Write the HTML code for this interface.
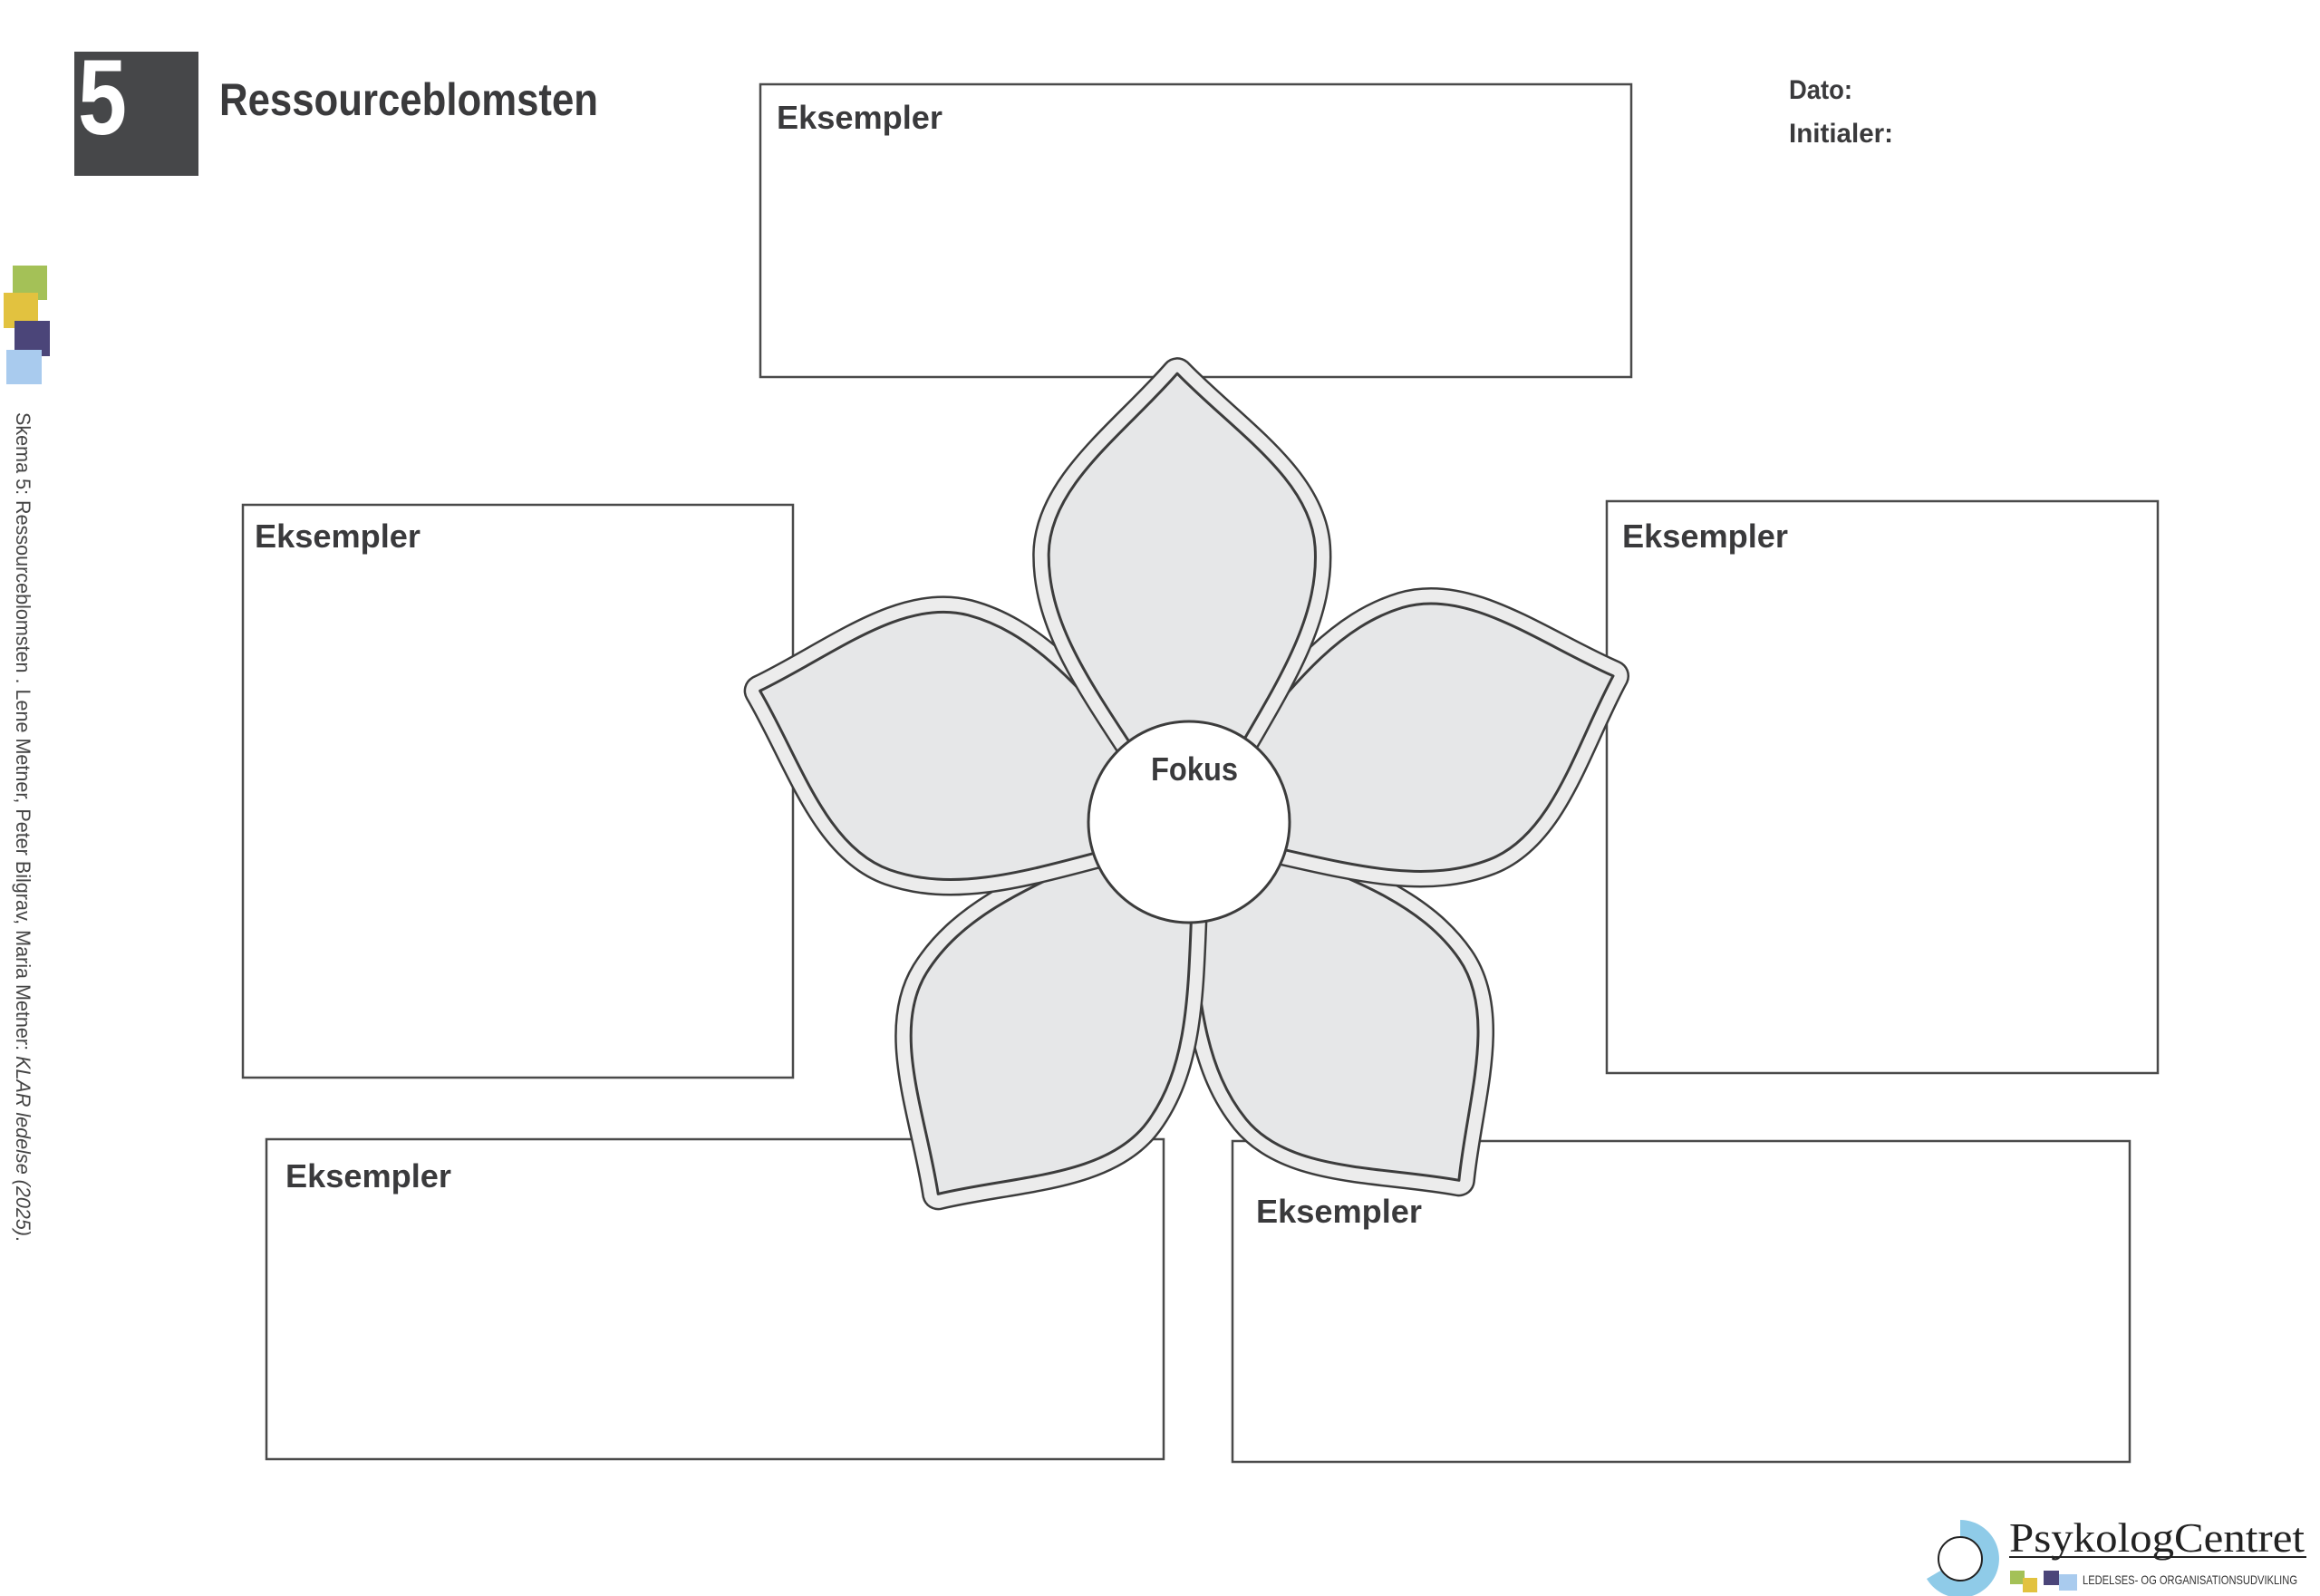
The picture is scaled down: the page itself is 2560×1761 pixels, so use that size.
<!DOCTYPE html>
<html><head><meta charset="utf-8"><style>
html,body{margin:0;padding:0;background:#fff;width:2560px;height:1761px;overflow:hidden}
svg{display:block}
.c{font-family:"Liberation Sans Narrow","Liberation Sans",sans-serif;font-weight:bold;fill:#3a3a3c}
</style></head><body>
<svg width="2560" height="1761" viewBox="0 0 2560 1761" xmlns="http://www.w3.org/2000/svg">
<defs>
<path id="pt" d="M -45,-60 C -100,-150 -150,-220 -147,-300 C -144,-375 -60,-430 0,-495 C 60,-430 144,-375 147,-300 C 150,-220 100,-150 45,-60 Z"/>
<g id="petal">
<use href="#pt" fill="none" stroke="#3c3c3c" stroke-width="36" stroke-linejoin="round"/>
<use href="#pt" fill="none" stroke="#ececec" stroke-width="31" stroke-linejoin="round"/>
<use href="#pt" fill="#e6e7e8" stroke="#3c3c3c" stroke-width="3" stroke-linejoin="round"/>
</g>
</defs>

<!-- header -->
<rect x="82" y="57" width="137" height="137" fill="#464749"/>
<text x="86" y="148" class="c" style="fill:#fff" font-size="118" textLength="54" lengthAdjust="spacingAndGlyphs">5</text>
<text x="242" y="127" class="c" font-size="50" textLength="418" lengthAdjust="spacingAndGlyphs">Ressourceblomsten</text>
<text x="1974" y="109" class="c" font-size="30" textLength="70" lengthAdjust="spacingAndGlyphs">Dato:</text>
<text x="1974" y="157" class="c" font-size="30" textLength="115" lengthAdjust="spacingAndGlyphs">Initialer:</text>

<!-- KLAR side logo -->
<rect x="14" y="293" width="38" height="38" fill="#a4c157"/>
<rect x="4" y="323" width="38" height="39" fill="#e2c23f"/>
<rect x="16" y="354" width="39" height="39" fill="#4b4579"/>
<rect x="7" y="386" width="39" height="38" fill="#a9cbee"/>
<text transform="translate(18,455) rotate(90)" font-family="Liberation Sans Narrow,Liberation Sans,sans-serif" font-size="22" fill="#444" textLength="915" lengthAdjust="spacingAndGlyphs">Skema 5: Ressourceblomsten . Lene Metner, Peter Bilgrav, Maria Metner: <tspan font-style="italic">KLAR ledelse (2025)</tspan>.</text>

<!-- boxes -->
<g fill="#fff" stroke="#4a4a4a" stroke-width="2.5">
<rect x="839" y="93" width="961" height="323"/>
<rect x="268" y="557" width="607" height="632"/>
<rect x="1773" y="553" width="608" height="631"/>
<rect x="294" y="1257" width="990" height="353"/>
<rect x="1360" y="1259" width="990" height="354"/>
</g>
<g class="c" font-size="36">
<text x="857" y="142" textLength="183" lengthAdjust="spacingAndGlyphs">Eksempler</text>
<text x="281" y="604" textLength="183" lengthAdjust="spacingAndGlyphs">Eksempler</text>
<text x="1790" y="604" textLength="183" lengthAdjust="spacingAndGlyphs">Eksempler</text>
<text x="315" y="1310" textLength="183" lengthAdjust="spacingAndGlyphs">Eksempler</text>
<text x="1386" y="1349" textLength="183" lengthAdjust="spacingAndGlyphs">Eksempler</text>
</g>

<!-- flower -->
<g transform="translate(1312,907)">
<use href="#petal" transform="rotate(143)"/>
<use href="#petal" transform="rotate(214)"/>
<use href="#petal" transform="rotate(-73)"/>
<use href="#petal" transform="rotate(71)"/>
<use href="#petal" transform="rotate(-1.5)"/>
<circle cx="0" cy="0" r="111" fill="#fff" stroke="#3c3c3c" stroke-width="3"/>
</g>
<text x="1270" y="861" class="c" font-size="36" textLength="96" lengthAdjust="spacingAndGlyphs">Fokus</text>

<!-- bottom-right logo -->
<path d="M 2163,1677 A 43,43 0 1 1 2126,1742 L 2143,1732 A 23,23 0 1 0 2163,1697 Z" fill="#8fcbe8"/>
<circle cx="2163" cy="1720" r="24" fill="#fff" stroke="#222" stroke-width="2"/>
<text x="2217" y="1712" font-family="Liberation Serif,serif" font-size="46" fill="#222" textLength="326" lengthAdjust="spacingAndGlyphs">PsykologCentret</text>
<rect x="2217" y="1717" width="328" height="2" fill="#222"/>
<rect x="2218" y="1733" width="16" height="15" fill="#a4c157"/>
<rect x="2232" y="1741" width="16" height="16" fill="#e2c23f"/>
<rect x="2255" y="1733" width="17" height="16" fill="#4b4579"/>
<rect x="2272" y="1737" width="20" height="18" fill="#a9cbee"/>
<text x="2298" y="1748" font-family="Liberation Sans Narrow,Liberation Sans,sans-serif" font-size="14" fill="#333" textLength="237" lengthAdjust="spacingAndGlyphs">LEDELSES- OG ORGANISATIONSUDVIKLING</text>
</svg>
</body></html>
